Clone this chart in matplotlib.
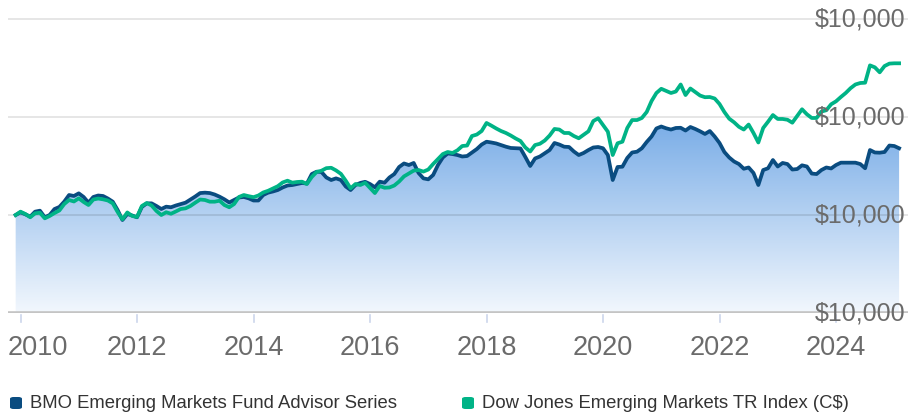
import numpy as np
import pandas as pd
import matplotlib
matplotlib.use("Agg")
import matplotlib.pyplot as plt
from matplotlib.patches import FancyBboxPatch

# monthly values, Dec 2009 -> Feb 2025 (growth of $10,000)
months = pd.date_range("2009-12-01", periods=183, freq="MS")

fund = [
    10000, 10280, 10070, 9830, 10340, 10440, 9770, 10000, 10610, 10820,
    11360, 12040, 11940, 12210, 11840, 11260, 11840, 11990, 11940, 11680,
    11360, 10510, 9490, 10100, 9950, 9770, 10820, 11190, 11190, 10920,
    10610, 10850, 10790, 10970, 11120, 11260, 11580, 11890, 12240, 12280,
    12240, 12090, 11870, 11600, 11280, 11530, 11790, 11840, 11700, 11480,
    11480, 12040, 12280, 12400, 12550, 12810, 13010, 13060, 13160, 13270,
    13210, 14180, 14420, 14390, 13830, 13570, 13740, 13570, 12910, 12550,
    13060, 13270, 13390, 13160, 12830, 13400, 13300, 13830, 14180, 14900,
    15260, 15100, 15310, 14290, 13740, 13640, 14080, 15100, 15870, 16280,
    16220, 16120, 15970, 16020, 16380, 16730, 17190, 17480, 17400, 17300,
    17140, 16970, 16840, 16810, 16790, 15920, 15000, 15770, 15970, 16300,
    16630, 17350, 17190, 16970, 16940, 16480, 16120, 16330, 16630, 16890,
    16940, 16810, 16120, 13570, 14900, 14930, 15820, 16380, 16460, 16810,
    17450, 18010, 18830, 19030, 18850, 18720, 18880, 18900, 18620, 18980,
    18780, 18540, 18270, 18570, 18010, 17350, 16430, 15870, 15460, 15200,
    14720, 14850, 14290, 13060, 14590, 14770, 15610, 14950, 15310, 15200,
    14640, 14690, 15070, 14950, 14230, 14180, 14590, 14850, 14750, 15100,
    15340, 15340, 15340, 15340, 15200, 14770, 16630, 16380, 16360, 16430,
    17090, 17040, 16810,
]

index = [
    10000, 10340, 10100, 9770, 10170, 10230, 9660, 9900, 10200, 10460,
    11120, 11530, 11380, 11700, 11330, 11020, 11580, 11680, 11600, 11480,
    11190, 10310, 9560, 10260, 9900, 9800, 10920, 11220, 10970, 10410,
    10000, 10280, 10130, 10360, 10610, 10680, 10920, 11260, 11580, 11530,
    11360, 11360, 11460, 11020, 10790, 11120, 11840, 12040, 11920, 11820,
    11990, 12300, 12470, 12700, 12940, 13320, 13500, 13300, 13370, 13400,
    13160, 13880, 14390, 14520, 14780, 14820, 14550, 14200, 13500, 12720,
    13160, 13060, 13290, 12760, 12240, 12960, 12780, 12810, 13010, 13420,
    13940, 14240, 14530, 14590, 14430, 14640, 15200, 15710, 16220, 16430,
    16330, 16600, 17040, 17090, 18060, 18210, 18570, 19390, 19120, 18830,
    18570, 18370, 18110, 17810, 17550, 16890, 16480, 17140, 17270, 17600,
    18110, 18780, 18720, 18370, 18370, 18060, 17830, 18190, 18540, 19590,
    19870, 19180, 18500, 16120, 17320, 17480, 18880, 19690, 19690, 19900,
    20510, 21630, 22450, 22880, 22670, 22450, 22600, 23320, 22240, 22910,
    22550, 22190, 22020, 22040, 21890, 21330, 20510, 19830, 19460, 19000,
    18720, 19230, 18370, 17400, 18880, 19520, 20200, 19800, 19800, 19720,
    19420, 20100, 20790, 20280, 19900, 19900, 20560, 20690, 21300, 21600,
    22040, 22450, 22940, 23320, 23470, 23500, 25270, 25070, 24560, 25200,
    25450, 25480, 25480,
]

fund_name = "BMO Emerging Markets Fund Advisor Series"
index_name = "Dow Jones Emerging Markets TR Index (C$)"
year_ticks = [2010, 2012, 2014, 2016, 2018, 2020, 2022, 2024]
y_ticks = [0, 10000, 20000, 30000]
y_labels = ["$10,000", "$10,000", "$10,000", "$10,000"]

FUND_COLOR = "#0a4c80"
INDEX_COLOR = "#00b386"
TICK_COLOR = "#6b6b6b"
FONT = ["Liberation Sans", "DejaVu Sans"]

x = months.year + (months.month - 1) / 12.0
XMIN, XMAX = 2009.785, 2025.236
YMAX = 31940

W, H = 918, 417
fig = plt.figure(figsize=(W / 100, H / 100), dpi=100)
ax = fig.add_axes([8 / W, 104 / H, 900 / W, 313 / H])
ax.set_xlim(XMIN, XMAX)
ax.set_ylim(0, YMAX)
ax.axis("off")

# gradient area under the fund line
top_c = np.array([45, 126, 217]) / 255
bot_c = np.array([242, 247, 253]) / 255
t = np.linspace(0, 1, 256)[:, None]
grad = (bot_c * (1 - t) + top_c * t)[:, None, :]
poly = ax.fill_between(x, fund, 0, color="none", lw=0)
im = ax.imshow(grad, extent=[XMIN, XMAX, 0, YMAX], origin="lower",
               aspect="auto", zorder=1, interpolation="bilinear")
im.set_clip_path(poly.get_paths()[0], transform=ax.transData)

# grid lines + labels
for v, lab in zip(y_ticks, y_labels):
    if v == 0:
        ax.axhline(v, color="#c4c4c4", lw=2.6, zorder=2)
    else:
        ax.axhline(v, color=(0, 0, 0, 0.1), lw=1.4, zorder=2)
    ax.text(0.9967, v, lab, transform=ax.get_yaxis_transform(),
            ha="right", va="center", fontsize=18, color=TICK_COLOR,
            family=FONT, zorder=6)

ax.plot(x, fund, color=FUND_COLOR, lw=2.7, zorder=3, solid_joinstyle="round")
ax.plot(x, index, color=INDEX_COLOR, lw=2.7, zorder=4, solid_joinstyle="round")

# x ticks and labels
for i, yr in enumerate(year_ticks):
    ax.plot([yr, yr], [-0.006, -0.03], transform=ax.get_xaxis_transform(),
            color="#ccd6eb", lw=1.2, clip_on=False)
    if i == 0:
        ax.text(XMIN, -0.07, str(yr), transform=ax.get_xaxis_transform(),
                ha="left", va="top", fontsize=19.5, color=TICK_COLOR, family=FONT)
    else:
        ax.text(yr, -0.07, str(yr), transform=ax.get_xaxis_transform(),
                ha="center", va="top", fontsize=19.5, color=TICK_COLOR, family=FONT)

# legend
renderer = fig.canvas.get_renderer()
for x0, col, name in [(10, FUND_COLOR, fund_name), (462, INDEX_COLOR, index_name)]:
    sq = FancyBboxPatch((x0 / W, (H - 409) / H), 12 / W, 12 / H,
                        boxstyle="round,pad=0,rounding_size=0.004",
                        transform=fig.transFigure, facecolor=col, edgecolor="none")
    fig.add_artist(sq)
    txt = fig.text((x0 + 20) / W, (H - 403) / H, name, ha="left", va="center",
                   fontsize=14, color="#333333", family=FONT)
    wpx = txt.get_window_extent(renderer).width
    txt.set_fontsize(min(14, 14 * 370 / wpx))

fig.savefig("out.png", dpi=100)
